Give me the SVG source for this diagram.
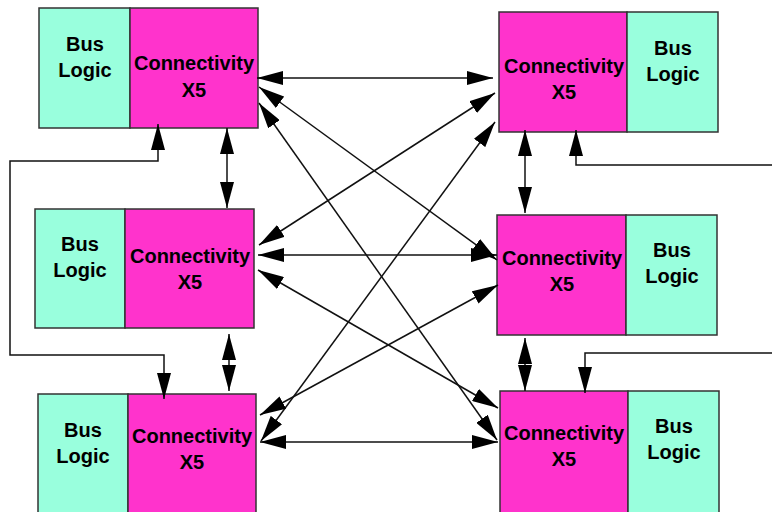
<svg xmlns="http://www.w3.org/2000/svg" width="772" height="512" viewBox="0 0 772 512">
<style>
.bus{fill:#99FFDD;stroke:#333;stroke-width:1.5}
.con{fill:#FF33CC;stroke:#333;stroke-width:1.5}
text{font-family:"Liberation Sans",Arial,sans-serif;font-weight:bold;font-size:20px;fill:#000;text-anchor:middle}
.ln{fill:none;stroke:#111;stroke-width:1.5}
.ar{marker-start:url(#ah);marker-end:url(#ah)}
.ae{marker-end:url(#ah)}
</style>
<defs>
<marker id="ah" viewBox="0 0 26 14" refX="26" refY="7" markerWidth="26" markerHeight="14" markerUnits="userSpaceOnUse" orient="auto-start-reverse">
<path d="M0,0 L26,7 L0,14 z" fill="#000"/>
</marker>
</defs>
<rect width="772" height="512" fill="#fff"/>
<g id="nodeA">
<rect class="bus" x="39" y="8" width="91" height="120"/>
<rect class="con" x="130" y="8" width="128" height="120"/>
<text x="85" y="51">Bus</text><text x="85" y="77">Logic</text>
<text x="194" y="70">Connectivity</text><text x="194" y="97">X5</text>
</g>
<g id="nodeB">
<rect class="bus" x="35" y="209" width="90" height="119"/>
<rect class="con" x="125" y="209" width="129" height="119"/>
<text x="80" y="251">Bus</text><text x="80" y="277">Logic</text>
<text x="190" y="263">Connectivity</text><text x="190" y="289">X5</text>
</g>
<g id="nodeC">
<rect class="bus" x="38" y="394" width="90" height="126"/>
<rect class="con" x="128" y="394" width="128" height="126"/>
<text x="83" y="437">Bus</text><text x="83" y="463">Logic</text>
<text x="192" y="443">Connectivity</text><text x="192" y="469">X5</text>
</g>
<g id="nodeD">
<rect class="con" x="499" y="12" width="128" height="120"/>
<rect class="bus" x="627" y="12" width="91" height="120"/>
<text x="564" y="73">Connectivity</text><text x="564" y="99">X5</text>
<text x="673" y="55">Bus</text><text x="673" y="81">Logic</text>
</g>
<g id="nodeE">
<rect class="con" x="497" y="215" width="129" height="120"/>
<rect class="bus" x="626" y="215" width="91" height="120"/>
<text x="562" y="265">Connectivity</text><text x="562" y="291">X5</text>
<text x="672" y="257">Bus</text><text x="672" y="283">Logic</text>
</g>
<g id="nodeF">
<rect class="con" x="500" y="391" width="128" height="129"/>
<rect class="bus" x="628" y="391" width="91" height="129"/>
<text x="564" y="440">Connectivity</text><text x="564" y="466">X5</text>
<text x="674" y="433">Bus</text><text x="674" y="459">Logic</text>
</g>
<g id="connectors">
<line class="ln ar" x1="257" y1="78" x2="493" y2="78"/>
<line class="ln ar" x1="258" y1="255" x2="497" y2="255"/>
<line class="ln ar" x1="260" y1="442" x2="498" y2="442"/>
<line class="ln ar" x1="259" y1="87" x2="497" y2="260"/>
<line class="ln ar" x1="259" y1="103" x2="497" y2="440"/>
<line class="ln ar" x1="495" y1="93" x2="259" y2="245"/>
<line class="ln ar" x1="495" y1="122" x2="261" y2="441"/>
<line class="ln ar" x1="258" y1="270" x2="498" y2="408"/>
<line class="ln ar" x1="498" y1="285" x2="260" y2="415"/>
<line class="ln ar" x1="227" y1="128" x2="227" y2="208"/>
<line class="ln ar" x1="229" y1="334" x2="229" y2="391"/>
<line class="ln ar" x1="525" y1="130" x2="525" y2="213"/>
<line class="ln ar" x1="525" y1="338" x2="525" y2="391"/>
<polyline class="ln ar" points="158,124 158,161 10,161 10,355 164,355 164,399"/>
<polyline class="ln ae" points="772,165 576,165 576,130"/>
<polyline class="ln ae" points="772,353 585,353 585,393"/>
</g>
</svg>
